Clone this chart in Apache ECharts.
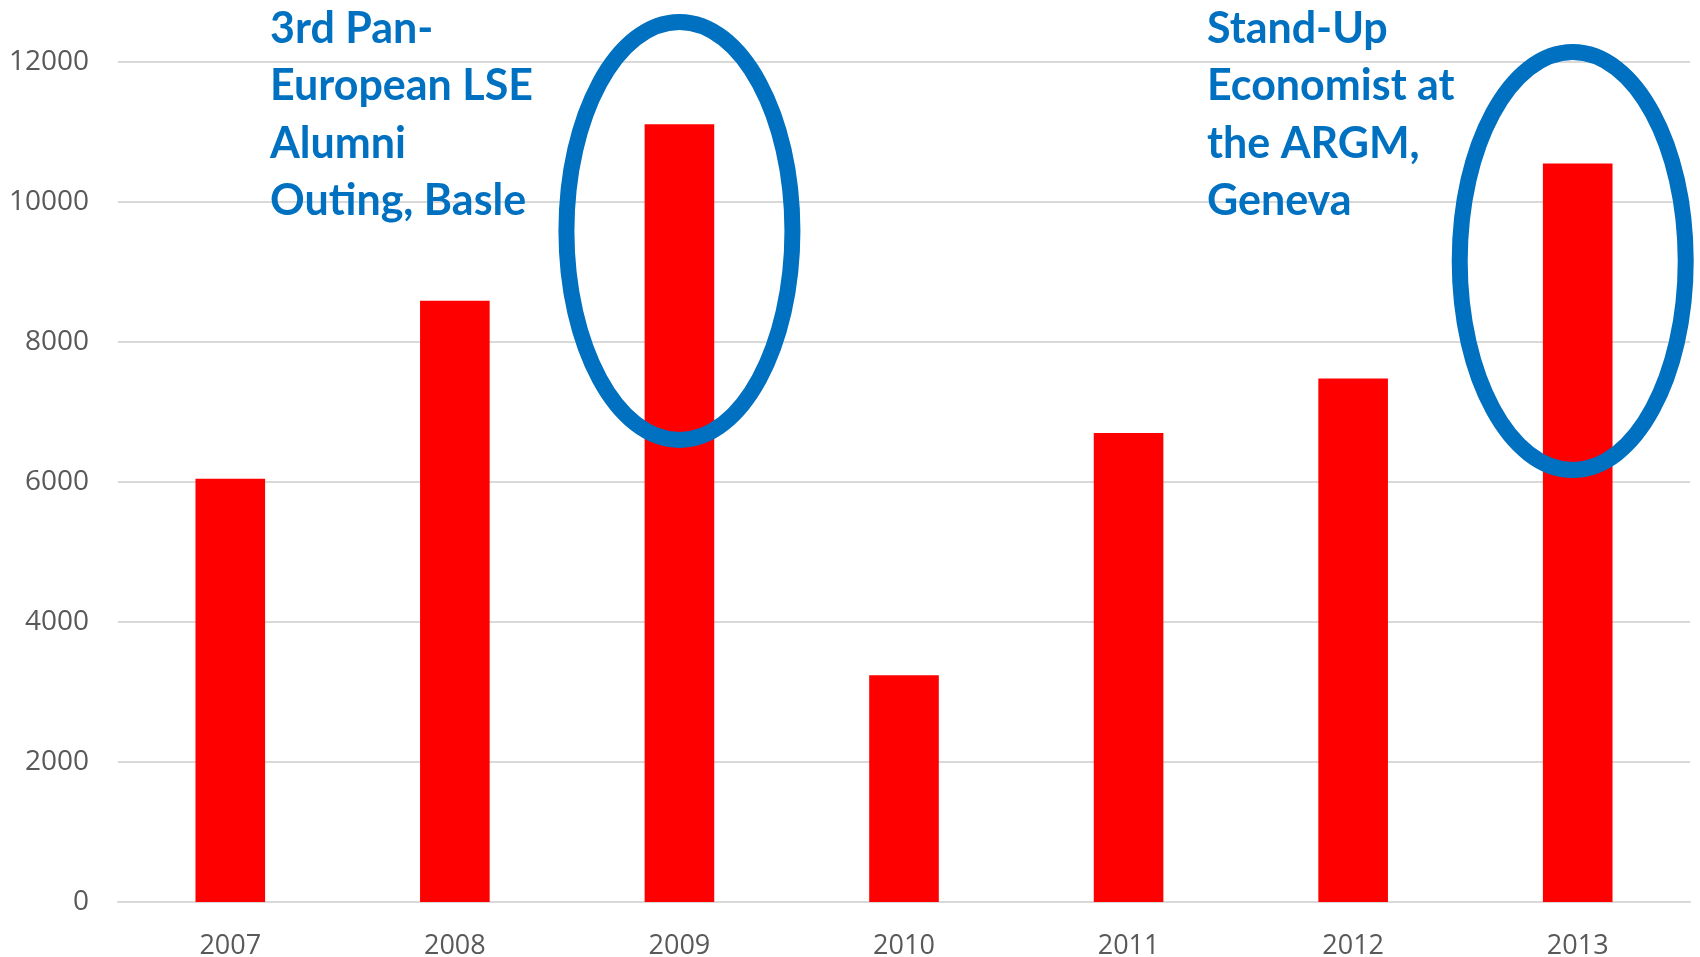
<!DOCTYPE html>
<html>
<head>
<meta charset="utf-8">
<script src="https://cdn.jsdelivr.net/npm/echarts@6/dist/echarts.min.js"></script>
<style>
  html, body { margin: 0; padding: 0; background: #fff; }
  #main { width: 1700px; height: 957px; }
</style>
</head>
<body>
<div id="main"></div>
<script>
// data
var years = ['2007', '2008', '2009', '2010', '2011', '2012', '2013'];
var visits = [6045, 8590, 11110, 3240, 6700, 7480, 10550];
var yTicks = [0, 2000, 4000, 6000, 8000, 10000, 12000];

// annotations: which year gets circled and the note next to it
var notes = [
    { year: '2009', text: '3rd Pan-\nEuropean LSE\nAlumni\nOuting, Basle', left: 270, cy: 9586, dx: 0 },
    { year: '2013', text: 'Stand-Up\nEconomist at\nthe ARGM,\nGeneva', left: 1207, cy: 9157, dx: -5 }
];

var chartDom = document.getElementById('main');
var myChart = echarts.init(chartDom, null, { width: 1700, height: 957 });

var option = {
    animation: false,
    grid: { left: 118, right: 10, top: 62, bottom: 55, outerBoundsMode: 'none', containLabel: false },
    xAxis: {
        type: 'category',
        data: years,
        axisLine: { lineStyle: { color: '#d9d9d9', width: 2 } },
        axisTick: { show: false },
        axisLabel: {
            color: '#595959',
            fontFamily: 'Open Sans',
            fontSize: 27,
            margin: 31
        }
    },
    yAxis: {
        type: 'value',
        min: yTicks[0],
        max: yTicks[yTicks.length - 1],
        interval: yTicks[1] - yTicks[0],
        axisLine: { show: false },
        axisTick: { show: false },
        splitLine: { lineStyle: { color: '#d9d9d9', width: 2 } },
        axisLabel: {
            color: '#595959',
            fontFamily: 'Open Sans',
            fontSize: 28,
            margin: 29,
            formatter: function (v) { return String(v); }
        }
    },
    series: [
        {
            type: 'bar',
            data: visits,
            barWidth: '31%',
            itemStyle: { color: '#ff0000' }
        }
    ]
};

myChart.setOption(option);

// ellipses + labels placed off the axes once the grid exists
var graphics = [];
notes.forEach(function (n) {
    var c = myChart.convertToPixel({ gridIndex: 0 }, [n.year, n.cy]);
    graphics.push({
        type: 'ellipse',
        shape: { cx: c[0] + n.dx, cy: c[1], rx: 113, ry: 209 },
        style: { fill: 'none', stroke: '#0070c0', lineWidth: 16 },
        z: 100
    });
    graphics.push({
        type: 'text',
        left: n.left,
        top: 0,
        style: {
            text: n.text,
            fill: '#0070c0',
            font: 'bold 43px Lato',
            lineHeight: 57.5
        },
        z: 100
    });
});
myChart.setOption({ graphic: graphics });
</script>
</body>
</html>
